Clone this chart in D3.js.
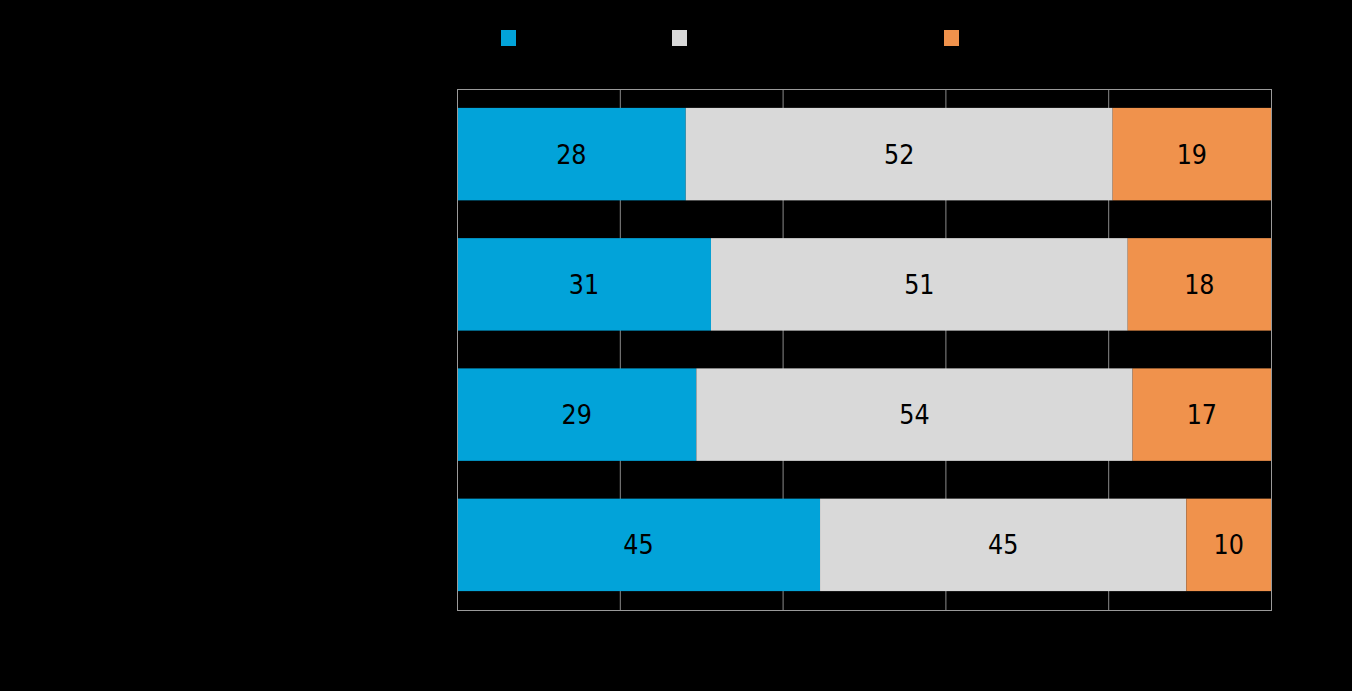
<!DOCTYPE html>
<html>
<head>
<meta charset="utf-8">
<script src="https://cdn.jsdelivr.net/npm/d3@7"></script>
<style>
  html, body { margin: 0; padding: 0; background: #000; }
  svg { display: block; }
</style>
</head>
<body>
<svg id="chart"></svg>
<script>
// rows, top to bottom (category names are not readable in the picture)
const rows = ["r1", "r2", "r3", "r4"];
const series = ["s1", "s2", "s3"];
const s1Values = [28.1, 31.2, 29.4, 44.6];
const s2Values = [52.45, 51.2, 53.6, 45.0];
const s3Values = [19.45, 17.6, 17.0, 10.4];
const colors = ["#02a3d9", "#d9d9d9", "#f0924c"];
const xTicks = [0, 20, 40, 60, 80, 100];

document.addEventListener('DOMContentLoaded', function() {
  const width = 1352;
  const height = 691;
  const margin = { top: 89, right: 81, bottom: 81, left: 457 };

  const svg = d3.select("#chart")
    .attr("width", width)
    .attr("height", height);

  const data = rows.map((r, i) => ({ row: r, s1: s1Values[i], s2: s2Values[i], s3: s3Values[i] }));
  const stacked = d3.stack().keys(series)(data);

  const x = d3.scaleLinear()
    .domain([0, 100])
    .range([margin.left, width - margin.right]);

  const y = d3.scaleBand()
    .domain(rows)
    .range([margin.top, height - margin.bottom])
    .paddingInner(0.29)
    .paddingOuter(0.145);

  const color = d3.scaleOrdinal().domain(series).range(colors);

  // gridlines
  svg.append("g")
    .selectAll("line")
    .data(xTicks.slice(1, -1))
    .enter().append("line")
    .attr("x1", d => x(d) + 0.5)
    .attr("x2", d => x(d) + 0.5)
    .attr("y1", margin.top)
    .attr("y2", height - margin.bottom)
    .attr("stroke", "#8a8a8a")
    .attr("stroke-width", 1);

  // bars
  const layer = svg.append("g")
    .selectAll("g")
    .data(stacked)
    .enter().append("g")
    .attr("fill", d => color(d.key));

  layer.selectAll("rect")
    .data(d => d)
    .enter().append("rect")
    .attr("x", d => x(d[0]))
    .attr("y", d => y(d.data.row))
    .attr("width", d => x(d[1]) - x(d[0]))
    .attr("height", y.bandwidth());

  layer.selectAll("text")
    .data(d => d)
    .enter().append("text")
    .attr("x", d => (x(d[0]) + x(d[1])) / 2)
    .attr("y", d => y(d.data.row) + y.bandwidth() / 2)
    .attr("dy", "0.36em")
    .attr("text-anchor", "middle")
    .attr("fill", "#000")
    .attr("font-family", "'DejaVu Sans Condensed', 'DejaVu Sans', sans-serif")
    .attr("font-size", "26.5px")
    .text(d => Math.round(d[1] - d[0]));

  // plot frame
  svg.append("rect")
    .attr("x", margin.left + 0.5)
    .attr("y", margin.top + 0.5)
    .attr("width", x(100) - x(0))
    .attr("height", height - margin.top - margin.bottom)
    .attr("fill", "none")
    .attr("stroke", "#9a9a9a")
    .attr("stroke-width", 1);

  // legend swatches
  const legendX = [501, 672, 944];
  svg.append("g")
    .selectAll("rect")
    .data(series)
    .enter().append("rect")
    .attr("x", (d, i) => legendX[i])
    .attr("y", 30)
    .attr("width", 15)
    .attr("height", 16)
    .attr("fill", d => color(d));
});
</script>
</body>
</html>
